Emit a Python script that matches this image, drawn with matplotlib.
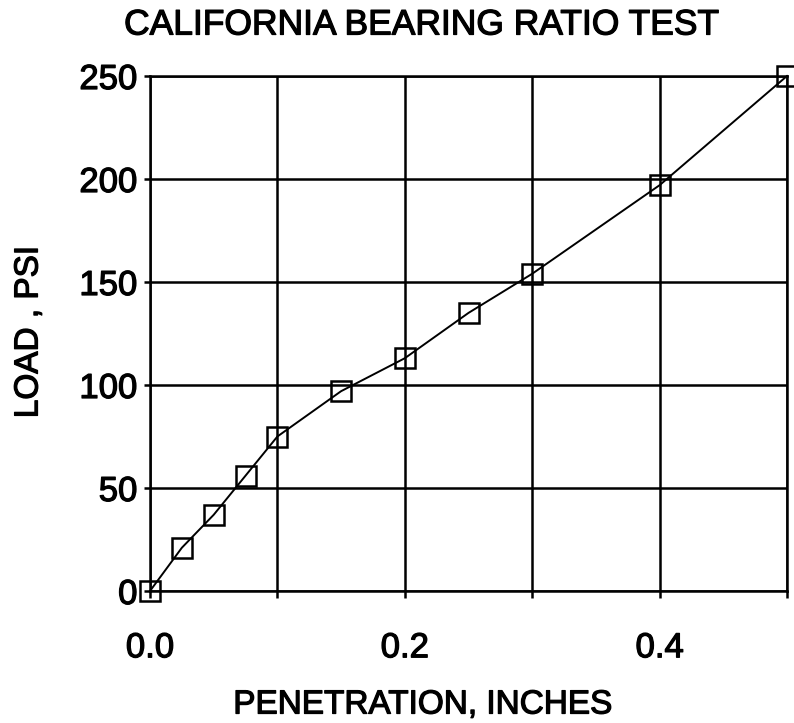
import matplotlib
matplotlib.use("Agg")
import matplotlib.pyplot as plt
import matplotlib.patheffects as pe

# CBR test: load vs. penetration
penetration = [0.0, 0.025, 0.05, 0.075, 0.1, 0.15, 0.2, 0.25, 0.3, 0.4, 0.5]
load_psi = [0, 21, 37, 56, 75, 97, 113, 135, 154, 197, 250]
x_grid = [0.0, 0.1, 0.2, 0.3, 0.4, 0.5]
x_tick_labels = ["0.0", "", "0.2", "", "0.4", ""]
y_ticks = [0, 50, 100, 150, 200, 250]

plt.rcParams["font.family"] = ["Liberation Sans", "DejaVu Sans"]
heavy = [pe.withStroke(linewidth=0.9, foreground="black")]

fig = plt.figure(figsize=(7.94, 7.23), dpi=100)
ax = fig.add_axes([150 / 794, 1 - 591 / 723, (787 - 150) / 794, (591 - 76) / 723])

ax.plot(penetration, load_psi, color="black", linewidth=1.4, marker="s",
        markersize=14, markerfacecolor="none", markeredgecolor="black",
        markeredgewidth=1.8, clip_on=False, zorder=3)

ax.set_xlim(0, 0.5)
ax.set_ylim(0, 250)

# grid every 0.1 in. and every 50 psi
ax.set_xticks(x_grid)
ax.set_xticklabels(x_tick_labels)
ax.set_yticks(y_ticks)
ax.grid(True, color="black", linewidth=1.8)

for s in ax.spines.values():
    s.set_linewidth(1.8)

ax.tick_params(axis="x", direction="out", length=5, width=1.8, pad=24, labelsize=25)
ax.tick_params(axis="y", direction="out", length=4, width=1.8, pad=5, labelsize=25)
for lab in ax.get_xticklabels() + ax.get_yticklabels():
    lab.set_path_effects(heavy)

fig.text(421 / 794, 1 - 25 / 723, "CALIFORNIA BEARING RATIO TEST",
         ha="center", va="center", fontsize=25.5, path_effects=heavy)
fig.text(423 / 794, 1 - 705 / 723, "PENETRATION, INCHES",
         ha="center", va="center", fontsize=24, path_effects=heavy)
fig.text(29 / 794, 1 - 332 / 723, "LOAD , PSI", rotation=90,
         ha="center", va="center", fontsize=24, path_effects=heavy)

fig.savefig("out.png", dpi=100)
